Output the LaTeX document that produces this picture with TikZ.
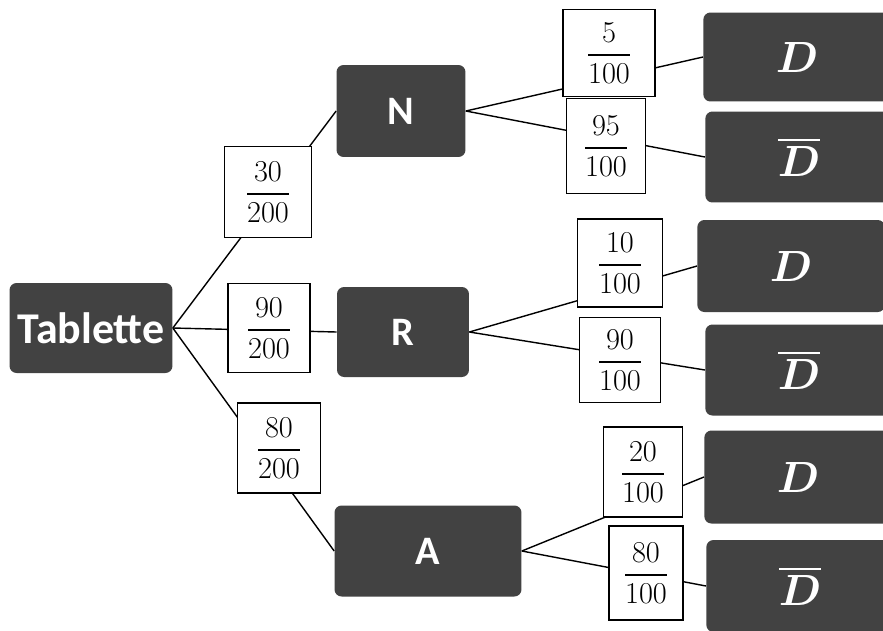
\documentclass[tikz,border=0pt]{standalone}
\usepackage{amsmath}
\usepackage{fontspec}
\setmainfont{Carlito}
\usepackage{tikz}
\usetikzlibrary{positioning}
\definecolor{scangray}{RGB}{66, 66, 66}

\begin{document}
\begin{tikzpicture}[
    x=0.02cm, y=-0.02cm,
    state/.style={fill=scangray, rounded corners=4pt, text=white, inner sep=0pt,
      font=\fontsize{23}{26}\selectfont\bfseries, minimum height=1.8cm},
    outcome/.style={state, anchor=west, minimum width=3.75cm,
      font=\fontsize{25}{28}\selectfont\boldmath},
    prob/.style={draw, line width=1pt, fill=white, inner sep=0pt,
      font=\fontsize{17}{20}\selectfont, minimum width=1.66cm, minimum height=1.8cm},
    branch/.style={line width=0.8pt},
]
  \useasboundingbox (0,0) rectangle (883,630);
  \clip (0,0) rectangle (883,630);

  % Root
  \node[state, minimum width=3.26cm, font=\fontsize{25}{28}\selectfont\bfseries] (tab) at (91,328) {Tablette};

  % First level
  \node[state, minimum width=2.58cm, minimum height=1.84cm] (N) at (401,111) {N};
  \node[state, minimum width=2.64cm] (R) at (403,332) {R};
  \node[state, minimum width=3.74cm, minimum height=1.82cm] (A) at (428,551) {A};

  % Second level
  \node[outcome, minimum height=1.78cm] (dN) at (703,57) {$D$};
  \node[outcome, minimum height=1.82cm] (dbN) at (705,157) {$\overline{D}$};
  \node[outcome, minimum height=1.84cm] (dR) at (697,266) {$D$};
  \node[outcome, minimum height=1.82cm] (dbR) at (705,370) {$\overline{D}$};
  \node[outcome, minimum height=1.86cm] (dA) at (704,477) {$D$};
  \node[outcome, minimum height=1.84cm] (dbA) at (706,586) {$\overline{D}$};

  % Branches
  \draw[branch] (tab.east) -- (N.west);
  \draw[branch] (tab.east) -- (R.west);
  \draw[branch] (tab.east) -- (A.west);
  \draw[branch] (N.east) -- (dN.west);
  \draw[branch] (N.east) -- (dbN.west);
  \draw[branch] (R.east) -- (dR.west);
  \draw[branch] (R.east) -- (dbR.west);
  \draw[branch] (A.east) -- (dA.west);
  \draw[branch] (A.east) -- (dbA.west);

  % Probabilities
  \node[prob, minimum width=1.74cm, minimum height=1.82cm] (pN) at (268,192) {$\dfrac{30}{200}$};
  \node[prob, minimum width=1.64cm, minimum height=1.78cm] (pR) at (269,328) {$\dfrac{90}{200}$};
  \node[prob] (pA) at (279,448) {$\dfrac{80}{200}$};
  \node[prob, minimum width=1.84cm, minimum height=1.74cm] (pdN) at (609,53) {$\dfrac{5}{100}$};
  \node[prob, minimum width=1.58cm, minimum height=1.9cm] (pdbN) at (606,146) {$\dfrac{95}{100}$};
  \node[prob, minimum width=1.7cm, minimum height=1.76cm] (pdR) at (620,263) {$\dfrac{10}{100}$};
  \node[prob, minimum width=1.62cm, minimum height=1.7cm] (pdbR) at (620,360) {$\dfrac{90}{100}$};
  \node[prob, minimum width=1.58cm] (pdA) at (643,472) {$\dfrac{20}{100}$};
  \node[prob, minimum width=1.48cm, minimum height=1.88cm] (pdbA) at (646,573) {$\dfrac{80}{100}$};
\end{tikzpicture}
\end{document}
